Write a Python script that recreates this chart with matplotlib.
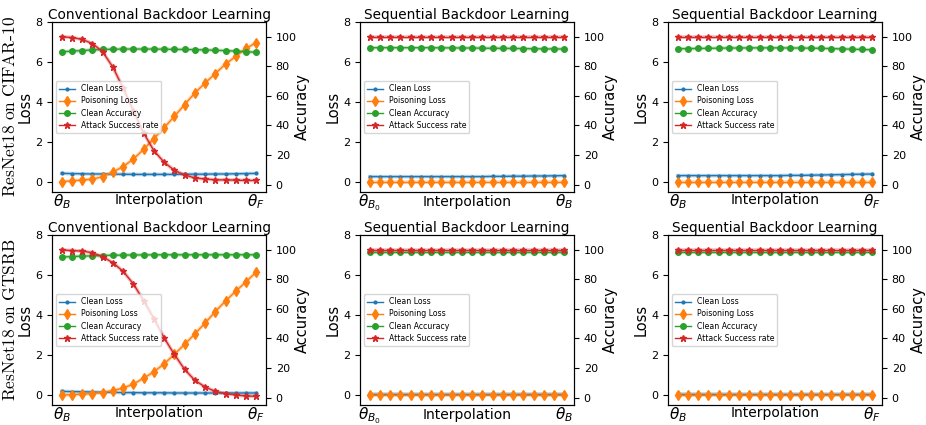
import matplotlib
matplotlib.use("Agg")
import matplotlib.pyplot as plt
import numpy as np

steps = np.arange(20)

# ---- CIFAR-10, conventional ----
cifar_conv_clean_loss = [0.43, 0.42, 0.41, 0.40, 0.40, 0.39, 0.39, 0.38, 0.38, 0.38,
                         0.38, 0.38, 0.39, 0.39, 0.39, 0.40, 0.40, 0.41, 0.42, 0.43]
cifar_conv_poison_loss = [0.02, 0.06, 0.10, 0.14, 0.27, 0.50, 0.77, 1.15, 1.63, 2.17,
                          2.72, 3.28, 3.87, 4.45, 4.95, 5.42, 5.90, 6.28, 6.68, 6.97]
cifar_conv_clean_acc = [89.8, 90.3, 90.7, 91.1, 91.4, 91.6, 91.7, 91.7, 91.7, 91.7,
                        91.6, 91.5, 91.4, 91.3, 91.1, 90.9, 90.6, 90.3, 89.9, 89.5]
cifar_conv_asr = [100.0, 99.5, 98.2, 95.4, 89.8, 79.4, 65.2, 50.0, 34.9, 23.0,
                  15.1, 9.7, 6.5, 4.5, 3.8, 3.2, 3.2, 3.0, 2.8, 2.8]

# ---- CIFAR-10, sequential (theta_B0 -> theta_B) ----
cifar_seq1_clean_loss = [0.27, 0.27, 0.27, 0.27, 0.27, 0.27, 0.27, 0.27, 0.27, 0.27,
                         0.27, 0.27, 0.28, 0.28, 0.29, 0.29, 0.30, 0.30, 0.31, 0.32]
cifar_seq1_poison_loss = [0.01] * 20
cifar_seq1_clean_acc = [92.6, 92.6, 92.6, 92.6, 92.6, 92.6, 92.6, 92.5, 92.5, 92.4,
                        92.4, 92.3, 92.2, 92.2, 92.1, 92.0, 91.9, 91.8, 91.8, 91.7]
cifar_seq1_asr = [100.0] * 20

# ---- CIFAR-10, sequential (theta_B -> theta_F) ----
cifar_seq2_clean_loss = [0.32, 0.32, 0.32, 0.32, 0.32, 0.32, 0.32, 0.32, 0.32, 0.32,
                         0.32, 0.33, 0.33, 0.34, 0.35, 0.36, 0.37, 0.38, 0.39, 0.40]
cifar_seq2_poison_loss = [0.01] * 20
cifar_seq2_clean_acc = [91.9, 92.0, 92.1, 92.2, 92.3, 92.4, 92.4, 92.5, 92.5, 92.5,
                        92.5, 92.4, 92.4, 92.3, 92.2, 92.0, 91.8, 91.6, 91.4, 91.2]
cifar_seq2_asr = [100.0] * 20

# ---- GTSRB, conventional ----
gtsrb_conv_clean_loss = [0.18, 0.17, 0.16, 0.15, 0.14, 0.13, 0.12, 0.12, 0.11, 0.11,
                         0.11, 0.10, 0.10, 0.10, 0.10, 0.10, 0.10, 0.10, 0.10, 0.10]
gtsrb_conv_poison_loss = [0.00, 0.02, 0.04, 0.07, 0.12, 0.22, 0.35, 0.55, 0.84, 1.16,
                          1.56, 2.03, 2.53, 3.05, 3.60, 4.17, 4.70, 5.19, 5.66, 6.15]
gtsrb_conv_clean_acc = [95.1, 95.4, 95.7, 95.9, 96.1, 96.3, 96.4, 96.5, 96.5, 96.6,
                        96.6, 96.6, 96.6, 96.6, 96.6, 96.6, 96.6, 96.6, 96.6, 96.6]
gtsrb_conv_asr = [99.8, 99.5, 99.1, 98.0, 95.3, 91.2, 85.4, 76.9, 65.6, 53.5,
                  40.4, 29.2, 19.1, 11.7, 7.2, 4.2, 2.7, 1.8, 1.1, 0.9]

# ---- GTSRB, sequential ----
gtsrb_seq1_clean_loss = [0.04] * 20
gtsrb_seq1_poison_loss = [0.00] * 20
gtsrb_seq1_clean_acc = [98.3] * 20
gtsrb_seq1_asr = [100.0] * 20

gtsrb_seq2_clean_loss = [0.04] * 20
gtsrb_seq2_poison_loss = [0.00] * 20
gtsrb_seq2_clean_acc = [98.3] * 20
gtsrb_seq2_asr = [100.0] * 20

titles = ["Conventional Backdoor Learning", "Sequential Backdoor Learning",
          "Sequential Backdoor Learning"]
end_labels = [(r"$\theta_B$", r"$\theta_F$"), (r"$\theta_{B_0}$", r"$\theta_B$"),
              (r"$\theta_B$", r"$\theta_F$")]
row_labels = [r"$\mathrm{ResNet18\ on\ CIFAR\text{-}10}$", r"$\mathrm{ResNet18\ on\ GTSRB}$"]
series_names = ["Clean Loss", "Poisoning Loss", "Clean Accuracy", "Attack Success rate"]

panels = [
    [(cifar_conv_clean_loss, cifar_conv_poison_loss, cifar_conv_clean_acc, cifar_conv_asr),
     (cifar_seq1_clean_loss, cifar_seq1_poison_loss, cifar_seq1_clean_acc, cifar_seq1_asr),
     (cifar_seq2_clean_loss, cifar_seq2_poison_loss, cifar_seq2_clean_acc, cifar_seq2_asr)],
    [(gtsrb_conv_clean_loss, gtsrb_conv_poison_loss, gtsrb_conv_clean_acc, gtsrb_conv_asr),
     (gtsrb_seq1_clean_loss, gtsrb_seq1_poison_loss, gtsrb_seq1_clean_acc, gtsrb_seq1_asr),
     (gtsrb_seq2_clean_loss, gtsrb_seq2_poison_loss, gtsrb_seq2_clean_acc, gtsrb_seq2_asr)],
]

W, H = 926, 425
fig = plt.figure(figsize=(W / 100, H / 100), dpi=100)

col_left = [52, 360, 668]
ax_w = 214
row_top = [22, 235]
ax_h = 170

colors = ["#1f77b4", "#ff7f0e", "#2ca02c", "#d62728"]
markers = [".", "d", "o", "*"]
msizes = [4, 5, 4, 5]

for r in range(2):
    for c in range(3):
        l = col_left[c] / W
        b = 1 - (row_top[r] + ax_h) / H
        ax = fig.add_axes([l, b, ax_w / W, ax_h / H])
        ax2 = ax.twinx()
        cl, pl, ca, asr = panels[r][c]
        handles = []
        for i, (vals, a) in enumerate([(cl, ax), (pl, ax), (ca, ax2), (asr, ax2)]):
            a.plot(steps, vals, color=colors[i], lw=2.6, alpha=0.3)
            h, = a.plot(steps, vals, color=colors[i], lw=1.0, marker=markers[i],
                        markersize=msizes[i], label=series_names[i])
            handles.append(h)
        ax.set_ylim(-0.5, 8)
        ax2.set_ylim(-5, 110)
        ax.set_yticks([0, 2, 4, 6, 8])
        ax2.set_yticks([0, 20, 40, 60, 80, 100])
        ax.tick_params(labelsize=8)
        ax2.tick_params(labelsize=8)
        ax.set_xticks([steps[0], steps[-1]])
        ax.set_xticklabels(end_labels[c], fontsize=11)
        ax.tick_params(axis="x", length=0, pad=0)
        ax.set_xlabel("Interpolation", fontsize=10, labelpad=-12.5)
        ax.set_ylabel("Loss", fontsize=10.5, labelpad=2)
        ax2.set_ylabel("Accuracy", fontsize=10.5, labelpad=-1)
        ax.set_title(titles[c], fontsize=9.8, pad=2)
        ax2.legend(handles=handles, loc="center left", fontsize=5.6,
                   bbox_to_anchor=(0.0, 0.5), borderaxespad=0.5, labelspacing=0.4)

for r in range(2):
    yc = 1 - (row_top[r] + ax_h / 2) / H
    fig.text(0.011, yc, row_labels[r], rotation=90, va="center", ha="center",
             fontsize=12.5, math_fontfamily="cm")

fig.savefig("out.png", dpi=100)
